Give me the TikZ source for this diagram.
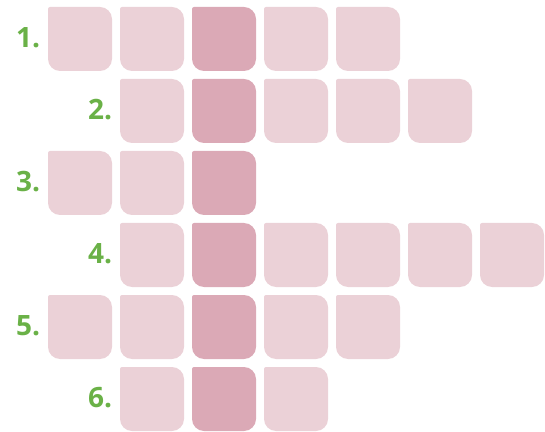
\documentclass[tikz,border=0pt]{standalone}
\usepackage{fontspec}
\newfontfamily\labfont{Open Sans}
\definecolor{cellLight}{HTML}{EBD1D7}
\definecolor{cellDark}{HTML}{DBA9B6}
\definecolor{labGreen}{HTML}{6AB147}
\tikzset{
  cell/.style={minimum size=64pt, inner sep=0pt, outer sep=0pt,
    path picture={\fill[#1]
      ([xshift=2pt]path picture bounding box.north west)
      -- ([xshift=-12pt]path picture bounding box.north east)
      arc[start angle=90,end angle=0,radius=12pt]
      -- ([yshift=12pt]path picture bounding box.south east)
      arc[start angle=0,end angle=-90,radius=12pt]
      -- ([xshift=12pt]path picture bounding box.south west)
      arc[start angle=-90,end angle=-180,radius=12pt]
      -- ([yshift=-2pt]path picture bounding box.north west)
      arc[start angle=180,end angle=90,radius=2pt] -- cycle;}},
  numlab/.style={inner sep=0pt, outer sep=0pt, anchor=east, text=labGreen,
    font=\labfont\bfseries\fontsize{28}{30}\selectfont}
}
\begin{document}
\begin{tikzpicture}[x=1pt,y=1pt]
  \useasboundingbox (0,0) rectangle (545,431);
  \foreach \r/\s/\e in {0/0/4,1/1/5,2/0/2,3/1/6,4/0/4,5/1/3}{
    \foreach \c in {\s,...,\e}{
      \ifnum\c=2 \def\cellcol{cellDark}\else\def\cellcol{cellLight}\fi
      \node[cell=\cellcol] (c\r-\c) at ({80+72*\c},{431-39-72*\r}) {};
    }
    \pgfmathtruncatemacro\num{\r+1}
    \node[numlab] (lab\r) at ([xshift=-8pt,yshift=1pt]c\r-\s.west) {\num.};
  }
\end{tikzpicture}
\end{document}
